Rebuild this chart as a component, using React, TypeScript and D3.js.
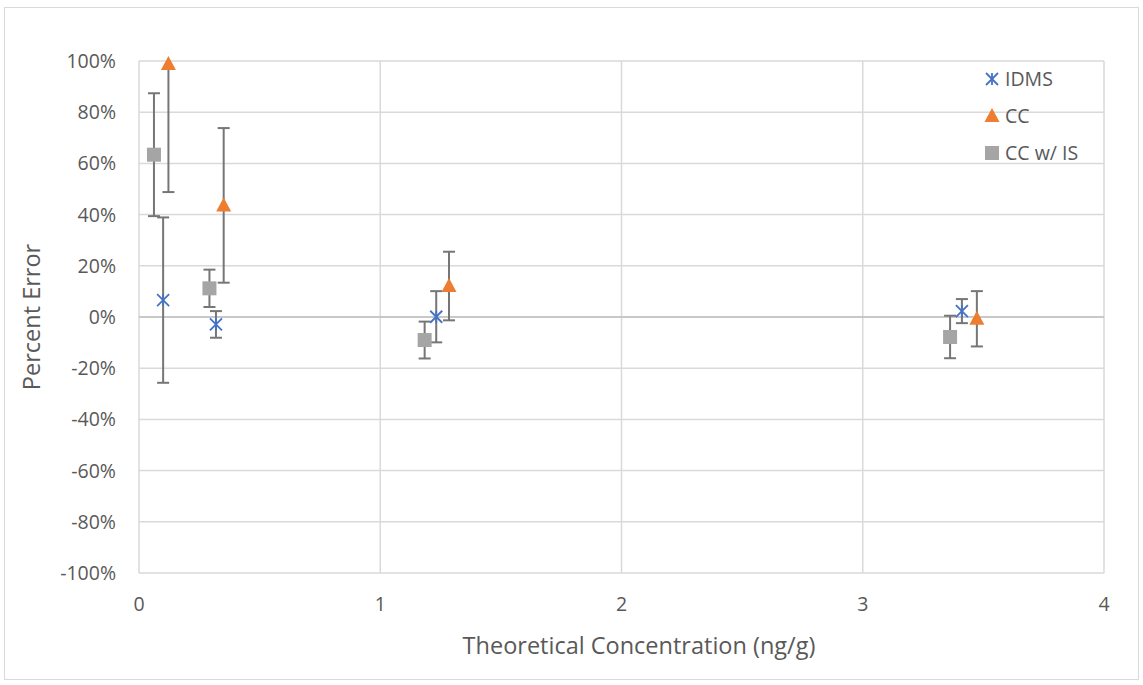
import React from 'react';
import * as d3 from 'd3';

const seriesNames = ['IDMS', 'CC', 'CC w/ IS'];
const seriesColors = ['#4472C4', '#ED7D31', '#A5A5A5'];

// x = theoretical concentration (ng/g), y = percent error (fraction), e = error bar half-width
const idmsX = [0.1, 0.319, 1.232, 3.411];
const idmsY = [0.066, -0.029, 0.001, 0.023];
const idmsErr = [0.323, 0.052, 0.1, 0.047];

const ccX = [0.122, 0.351, 1.285, 3.473];
const ccY = [0.988, 0.436, 0.121, -0.007];
const ccErr = [0.5, 0.302, 0.134, 0.108];

const ccisX = [0.062, 0.292, 1.184, 3.362];
const ccisY = [0.634, 0.112, -0.09, -0.078];
const ccisErr = [0.24, 0.073, 0.072, 0.083];

const xTicks = [0, 1, 2, 3, 4];
const yTicks = [-1, -0.8, -0.6, -0.4, -0.2, 0, 0.2, 0.4, 0.6, 0.8, 1];

const W = 1143;
const H = 685;
const font = "'Open Sans', 'Liberation Sans', sans-serif";
const textColor = '#595959';

function Marker({ kind, x, y, color }: { kind: number; x: number; y: number; color: string }) {
  if (kind === 0) {
    const s = 6;
    return (
      <g stroke={color} strokeWidth={1.8} fill="none">
        <line x1={x - s} y1={y - s} x2={x + s} y2={y + s} />
        <line x1={x - s} y1={y + s} x2={x + s} y2={y - s} />
        <line x1={x} y1={y - s} x2={x} y2={y + s} />
      </g>
    );
  }
  if (kind === 1) {
    const s = 7.5;
    return <path d={`M${x},${y - 8}L${x + s},${y + 6}L${x - s},${y + 6}Z`} fill={color} />;
  }
  return <rect x={x - 7} y={y - 7} width={14} height={14} fill={color} />;
}

export default function App() {
  const x = d3.scaleLinear().domain([0, 4]).range([139, 1104]);
  const y = d3.scaleLinear().domain([-1, 1]).range([573, 61]);
  const pct = (v: number) => `${Math.round(v * 100)}%`;

  const series = [
    { xs: idmsX, ys: idmsY, es: idmsErr },
    { xs: ccX, ys: ccY, es: ccErr },
    { xs: ccisX, ys: ccisY, es: ccisErr },
  ];

  return (
    <div style={{ position: 'absolute', left: 0, top: 0 }}>
      <svg width={W} height={H} style={{ display: 'block' }}>
        <defs>
          <clipPath id="plot">
            <rect x={139} y={61} width={965} height={512} />
          </clipPath>
        </defs>
        <rect x={0} y={0} width={W} height={H} fill="#fff" />
        <rect x={4.5} y={7.5} width={1134} height={672} fill="none" stroke="#d9d9d9" />

        {yTicks.map((t) => (
          <line key={'gy' + t} x1={x(0)} x2={x(4)} y1={y(t)} y2={y(t)} stroke="#d9d9d9" strokeWidth={1.5} />
        ))}
        {xTicks.map((t) => (
          <line key={'gx' + t} x1={x(t)} x2={x(t)} y1={y(1)} y2={y(-1)} stroke="#d9d9d9" strokeWidth={1.5} />
        ))}
        <line x1={x(0)} x2={x(4)} y1={y(0)} y2={y(0)} stroke="#bfbfbf" strokeWidth={1.5} />

        {yTicks.map((t) => (
          <text key={'ty' + t} x={116} y={y(t)} dy="0.36em" textAnchor="end" fontFamily={font} fontSize={19.5} fill={textColor}>
            {pct(t)}
          </text>
        ))}
        {xTicks.map((t) => (
          <text key={'tx' + t} x={x(t)} y={611} textAnchor="middle" fontFamily={font} fontSize={19.5} fill={textColor}>
            {t}
          </text>
        ))}

        <text x={639} y={654} textAnchor="middle" fontFamily={font} fontSize={23.5} fill={textColor}>
          Theoretical Concentration (ng/g)
        </text>
        <text
          transform={`translate(40,${y(0)}) rotate(-90)`}
          textAnchor="middle"
          fontFamily={font}
          fontSize={23.5}
          fill={textColor}
        >
          Percent Error
        </text>

        <g clipPath="url(#plot)" stroke="#767676" strokeWidth={2}>
          {series.map((s, si) =>
            s.xs.map((xv, i) => {
              const cx = x(xv);
              const top = y(s.ys[i] + s.es[i]);
              const bot = y(s.ys[i] - s.es[i]);
              return (
                <g key={'e' + si + i}>
                  <line x1={cx} x2={cx} y1={top} y2={bot} />
                  <line x1={cx - 6} x2={cx + 6} y1={top} y2={top} />
                  <line x1={cx - 6} x2={cx + 6} y1={bot} y2={bot} />
                </g>
              );
            })
          )}
        </g>

        {series.map((s, si) =>
          s.xs.map((xv, i) => (
            <Marker key={'m' + si + i} kind={si} x={x(xv)} y={y(s.ys[i])} color={seriesColors[si]} />
          ))
        )}

        {seriesNames.map((n, i) => (
          <g key={'l' + n}>
            <Marker kind={i} x={992} y={79 + i * 37} color={seriesColors[i]} />
            <text x={1005} y={79 + i * 37} dy="0.36em" fontFamily={font} fontSize={19.5} fill={textColor}>
              {n}
            </text>
          </g>
        ))}
      </svg>
    </div>
  );
}
